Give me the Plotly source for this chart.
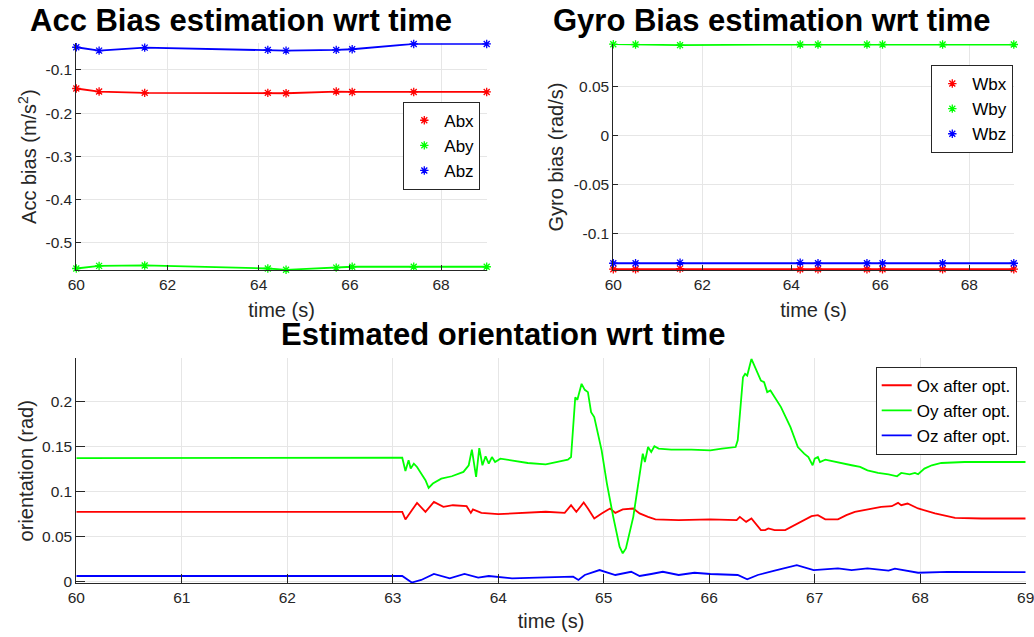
import plotly.graph_objects as go

# ---------------- data ----------------
t_bias = [60, 60.5, 61.5, 64.2, 64.6, 65.7, 66.05, 67.4, 69]
abx = [-0.143, -0.150, -0.153, -0.153, -0.154, -0.150, -0.151, -0.151, -0.151]
aby = [-0.559, -0.553, -0.552, -0.559, -0.562, -0.557, -0.555, -0.555, -0.555]
abz = [-0.0476, -0.0554, -0.0485, -0.0538, -0.0554, -0.0538, -0.0522, -0.040, -0.040]

wbx = [-0.137, -0.137, -0.1364, -0.137, -0.137, -0.137, -0.137, -0.137, -0.137]
wby = [0.0935, 0.0932, 0.0925, 0.0932, 0.0932, 0.0932, 0.0932, 0.0932, 0.0932]
wbz = [-0.1309, -0.1309, -0.1302, -0.1302, -0.1309, -0.1309, -0.1309, -0.1309, -0.1309]

t_oy = [60, 61, 62, 63.09, 63.12, 63.15, 63.17, 63.20, 63.23, 63.27, 63.31, 63.34, 63.38,
        63.46, 63.56, 63.67, 63.72, 63.75, 63.79, 63.82, 63.85, 63.88, 63.91, 63.94, 63.97,
        64.02, 64.13, 64.28, 64.45, 64.57, 64.66, 64.69, 64.73, 64.75, 64.79, 64.82, 64.85,
        64.88, 64.91, 64.98, 65.03, 65.09, 65.15, 65.18, 65.21, 65.28, 65.33, 65.37, 65.39,
        65.42, 65.45, 65.48, 65.52, 65.64, 65.83, 66.01, 66.12, 66.20, 66.25, 66.27, 66.32,
        66.34, 66.36, 66.40, 66.42, 66.45, 66.49, 66.52, 66.55, 66.58, 66.62, 66.68, 66.77,
        66.84, 66.90, 66.94, 66.98, 67.00, 67.03, 67.05, 67.10, 67.22, 67.35, 67.43, 67.50,
        67.60, 67.70, 67.78, 67.82, 67.90, 67.95, 67.98, 68.04, 68.11, 68.20, 68.42, 69.00]
oy = [0.137, 0.137, 0.137, 0.1374, 0.1227, 0.1345, 0.1253, 0.1308, 0.1271, 0.1198, 0.1124,
      0.1039, 0.1087, 0.1142, 0.1168, 0.1216, 0.129, 0.1463, 0.116, 0.148, 0.129, 0.1389,
      0.1308, 0.1381, 0.1326, 0.1363, 0.1345, 0.1315, 0.130, 0.1326, 0.1352, 0.1381, 0.2044,
      0.2015, 0.2192, 0.2126, 0.210, 0.1878, 0.1823, 0.1455, 0.1087, 0.0718, 0.0387, 0.0314,
      0.0369, 0.0718, 0.1087, 0.1419, 0.1326, 0.1492, 0.1437, 0.150, 0.1474, 0.1463, 0.1463,
      0.1455, 0.1474, 0.1485, 0.1492, 0.1566, 0.2265, 0.2303, 0.2284, 0.2468, 0.2413, 0.232,
      0.2229, 0.221, 0.210, 0.2118, 0.2044, 0.1934, 0.1713, 0.1492, 0.1419, 0.1381, 0.129,
      0.1363, 0.1381, 0.1326, 0.1352, 0.1326, 0.129, 0.1271, 0.1234, 0.1205, 0.119, 0.1168,
      0.1205, 0.119, 0.1205, 0.119, 0.1253, 0.129, 0.1315, 0.1326, 0.1326]

t_ox = [60, 63.09, 63.12, 63.23, 63.31, 63.39, 63.48, 63.57, 63.70, 63.74, 63.76, 63.84,
        64.00, 64.13, 64.25, 64.45, 64.63, 64.69, 64.74, 64.81, 64.85, 64.91, 64.98, 65.06,
        65.11, 65.18, 65.28, 65.34, 65.42, 65.49, 65.71, 66.01, 66.26, 66.29, 66.35, 66.40,
        66.49, 66.53, 66.56, 66.62, 66.72, 66.81, 66.91, 66.97, 67.03, 67.10, 67.22, 67.30,
        67.38, 67.50, 67.63, 67.73, 67.79, 67.82, 67.88, 67.98, 68.14, 68.33, 68.58, 69.00]
ox = [0.0773, 0.0773, 0.069, 0.0873, 0.0773, 0.0884, 0.0829, 0.0847, 0.0836, 0.0762, 0.080,
      0.0762, 0.0748, 0.0756, 0.0762, 0.0775, 0.0762, 0.0847, 0.0773, 0.0877, 0.0811, 0.070,
      0.0756, 0.0811, 0.0762, 0.080, 0.0811, 0.0756, 0.0718, 0.069, 0.0682, 0.069, 0.0682,
      0.0718, 0.0663, 0.070, 0.0571, 0.0571, 0.059, 0.0571, 0.0571, 0.0627, 0.0682, 0.0726,
      0.0737, 0.069, 0.069, 0.0737, 0.0773, 0.080, 0.0829, 0.0836, 0.0873, 0.0847, 0.0866,
      0.0811, 0.0756, 0.0707, 0.070, 0.070]

t_oz = [60, 63.09, 63.18, 63.27, 63.39, 63.46, 63.54, 63.68, 63.76, 63.81, 63.91, 64.13,
        64.45, 64.71, 64.76, 64.82, 64.96, 65.11, 65.26, 65.34, 65.45, 65.56, 65.71, 65.86,
        66.01, 66.27, 66.36, 66.46, 66.62, 66.83, 66.99, 67.22, 67.35, 67.50, 67.70, 67.76,
        67.98, 68.26, 69.00]
oz = [0.0063, 0.0063, -0.001, 0.0019, 0.0085, 0.0063, 0.0037, 0.0085, 0.0055, 0.0044,
      0.0063, 0.0037, 0.0048, 0.0055, 0.0019, 0.0074, 0.0129, 0.0074, 0.011, 0.0063, 0.0085,
      0.011, 0.0074, 0.0099, 0.0085, 0.0074, 0.0026, 0.0074, 0.0122, 0.0184, 0.0129, 0.0148,
      0.0129, 0.0148, 0.0122, 0.0144, 0.0099, 0.0108, 0.0105]

acc_yticks = [-0.5, -0.4, -0.3, -0.2, -0.1]
acc_ytext = ["-0.5", "-0.4", "-0.3", "-0.2", "-0.1"]
gyro_yticks = [-0.1, -0.05, 0, 0.05]
gyro_ytext = ["-0.1", "-0.05", "0", "0.05"]
ori_yticks = [0, 0.05, 0.1, 0.15, 0.2]
ori_ytext = ["0", "0.05", "0.1", "0.15", "0.2"]

RED, GREEN, BLUE = "#ff0000", "#00ff00", "#0000ff"
FONT = "Liberation Sans, Arial, Helvetica, sans-serif"
AXC = "#262626"

fig = go.Figure()

def bias_traces(x, ys, names, xa, ya, legend):
    for y, name, c in zip(ys, names, [RED, GREEN, BLUE]):
        fig.add_trace(go.Scatter(x=x, y=y, mode="lines+markers", name=name,
                                 line=dict(color=c, width=1.8),
                                 marker=dict(symbol="asterisk-open", size=7, color=c,
                                             line=dict(color=c, width=1.3)),
                                 xaxis=xa, yaxis=ya, showlegend=False, cliponaxis=False))
    for y, name, c in zip(ys, names, [RED, GREEN, BLUE]):
        fig.add_trace(go.Scatter(x=[None], y=[None], mode="markers", name=name,
                                 marker=dict(symbol="asterisk-open", size=7, color=c,
                                             line=dict(color=c, width=1.3)),
                                 xaxis=xa, yaxis=ya, legend=legend))

bias_traces(t_bias, [abx, aby, abz], ["Abx", "Aby", "Abz"], "x", "y", "legend")
bias_traces(t_bias, [wbx, wby, wbz], ["Wbx", "Wby", "Wbz"], "x2", "y2", "legend2")

for t, y, name, c in [(t_ox, ox, "Ox after opt.", RED), (t_oy, oy, "Oy after opt.", GREEN),
                      (t_oz, oz, "Oz after opt.", BLUE)]:
    fig.add_trace(go.Scatter(x=t, y=y, mode="lines", name=name,
                             line=dict(color=c, width=1.8),
                             xaxis="x3", yaxis="y3", legend="legend3"))

W, H = 1034, 637

def px_x(p):
    return p / W

def px_y(p):
    return 1 - p / H

common = dict(showline=True, linecolor=AXC, linewidth=1, mirror=False, automargin=False,
              showgrid=True, gridcolor="#e6e6e6", gridwidth=1, zeroline=False,
              ticks="inside", tickcolor=AXC,
              tickfont=dict(family=FONT, size=15.5, color=AXC),
              title_font=dict(family=FONT, size=20, color=AXC))

LEGFONT = dict(family=FONT, size=17, color="black")

fig.update_layout(
    width=W, height=H, paper_bgcolor="white", plot_bgcolor="white",
    margin=dict(l=0, r=0, t=0, b=0, pad=0),
    font=dict(family=FONT, color=AXC),
    xaxis=dict(domain=[px_x(76.3), px_x(486.7)], range=[60, 69], anchor="y",
               tickvals=[60, 62, 64, 66, 68], ticklen=5,
               title=dict(text="time (s)", standoff=11), **common),
    yaxis=dict(domain=[px_y(270), px_y(43.3)], range=[-0.5625, -0.0385], anchor="x",
               tickvals=acc_yticks, ticktext=acc_ytext, ticklen=5,
               title=dict(text="Acc bias (m/s<sup>2</sup>)", standoff=3), **common),
    xaxis2=dict(domain=[px_x(613.3), px_x(1013.8)], range=[60, 69], anchor="y2",
                tickvals=[60, 62, 64, 66, 68], ticklen=5,
                title=dict(text="time (s)", standoff=11), **common),
    yaxis2=dict(domain=[px_y(270), px_y(44)], range=[-0.1378, 0.0937], anchor="x2",
                tickvals=gyro_yticks, ticktext=gyro_ytext, ticklen=5,
                title=dict(text="Gyro bias (rad/s)", standoff=4), **common),
    xaxis3=dict(domain=[px_x(76.3), px_x(1025.7)], range=[60, 69], anchor="y3",
                tickvals=list(range(60, 70)), ticklen=9, ticklabeloverflow="allow",
                title=dict(text="time (s)", standoff=9), **common),
    yaxis3=dict(domain=[px_y(583.3), px_y(358.3)], range=[-0.0018, 0.2475], anchor="x3",
                tickvals=ori_yticks, ticktext=ori_ytext, ticklen=9,
                title=dict(text="orientation (rad)", standoff=3), **common),
    legend=dict(x=px_x(480.3), y=px_y(101.7), xanchor="right", yanchor="top",
                bgcolor="white", bordercolor=AXC, borderwidth=1, font=LEGFONT),
    legend2=dict(x=px_x(1013.3), y=px_y(65), xanchor="right", yanchor="top",
                 bgcolor="white", bordercolor=AXC, borderwidth=1, font=LEGFONT),
    legend3=dict(x=px_x(1016.7), y=px_y(366.7), xanchor="right", yanchor="top",
                 bgcolor="white", bordercolor=AXC, borderwidth=1, font=LEGFONT),
    annotations=[
        dict(text="<b>Acc Bias estimation wrt time</b>", x=px_x(241), y=px_y(21),
             xref="paper", yref="paper", showarrow=False, xanchor="center", yanchor="middle",
             font=dict(family=FONT, size=31, color="black")),
        dict(text="<b>Gyro Bias estimation wrt time</b>", x=px_x(771.5), y=px_y(21),
             xref="paper", yref="paper", showarrow=False, xanchor="center", yanchor="middle",
             font=dict(family=FONT, size=31, color="black")),
        dict(text="<b>Estimated orientation wrt time</b>", x=px_x(502.5), y=px_y(334),
             xref="paper", yref="paper", showarrow=False, xanchor="center", yanchor="middle",
             font=dict(family=FONT, size=31, color="black")),
    ],
)

fig.write_html("out.html", config={"displayModeBar": False},
               post_script="document.body.style.margin='0';")
